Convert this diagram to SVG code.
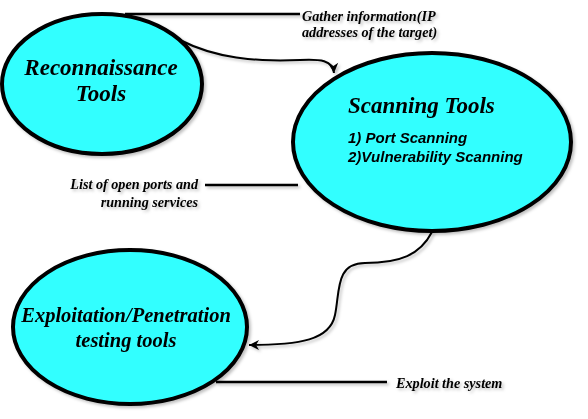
<svg xmlns="http://www.w3.org/2000/svg" width="588" height="419" viewBox="0 0 588 419">
<style>
.node{fill:#33ffff;stroke:#000;stroke-width:4}
.title{font-family:"Liberation Serif",serif;font-style:italic;font-weight:bold;fill:#000}
.sub{font-family:"Liberation Sans",sans-serif;font-style:italic;font-weight:bold;fill:#000}
.lbl{font-family:"Liberation Serif",serif;font-style:italic;font-weight:bold;font-size:14.2px;fill:#000}
.ln{fill:none;stroke:#000;stroke-width:2.5}
.cn{fill:none;stroke:#000;stroke-width:2}
</style>
<defs>
<filter id="sh" x="-10%" y="-10%" width="130%" height="130%">
<feDropShadow dx="2" dy="2" stdDeviation="1.5" flood-color="#000" flood-opacity="0.25"/>
</filter>
<marker id="ah" viewBox="0 0 12 12" refX="11" refY="6" markerWidth="12" markerHeight="12" markerUnits="userSpaceOnUse" orient="auto">
<path d="M1 1 L11 6 L1 11 L4 6 Z" fill="#000"/>
</marker>
</defs>
<g id="connectors" filter="url(#sh)">
<path class="ln" d="M125 14 H300"/>
<path class="cn" d="M180 40 C215 58 255 62 300 60 C320 59 333 60 334 73" marker-end="url(#ah)"/>
<path class="ln" d="M205 185 H298"/>
<path class="cn" d="M432 232 C420 255 400 263 365 263 C335 263 340 292 335 315 C330 340 300 345 249 345" marker-end="url(#ah)"/>
<path class="ln" d="M216 382 H387"/>
</g>
<g id="recon" filter="url(#sh)">
<ellipse class="node" cx="102" cy="84" rx="100" ry="70"/>
<text class="title" font-size="23" text-anchor="middle" x="101" y="75">Reconnaissance</text>
<text class="title" font-size="23" text-anchor="middle" x="101" y="101">Tools</text>
</g>
<g id="scanning" filter="url(#sh)">
<ellipse class="node" cx="432" cy="142" rx="139" ry="89"/>
<text class="title" font-size="23" x="348" y="113" style="font-weight:600">Scanning Tools</text>
<text class="sub" font-size="15" x="348" y="143">1) Port Scanning</text>
<text class="sub" font-size="15" x="348" y="162">2)Vulnerability Scanning</text>
</g>
<g id="exploit" filter="url(#sh)">
<ellipse class="node" cx="130" cy="327" rx="117" ry="77"/>
<text class="title" font-size="20.5" text-anchor="middle" x="126" y="322">Exploitation/Penetration</text>
<text class="title" font-size="20.5" text-anchor="middle" x="126" y="347">testing tools</text>
</g>
<g id="labels" filter="url(#sh)">
<text class="lbl" x="302" y="21">Gather information(IP</text>
<text class="lbl" x="302" y="37">addresses of the target)</text>
<text class="lbl" text-anchor="end" x="198" y="189">List of open ports and</text>
<text class="lbl" text-anchor="end" x="198" y="207">running services</text>
<text class="lbl" x="396" y="388">Exploit the system</text>
</g>
</svg>
